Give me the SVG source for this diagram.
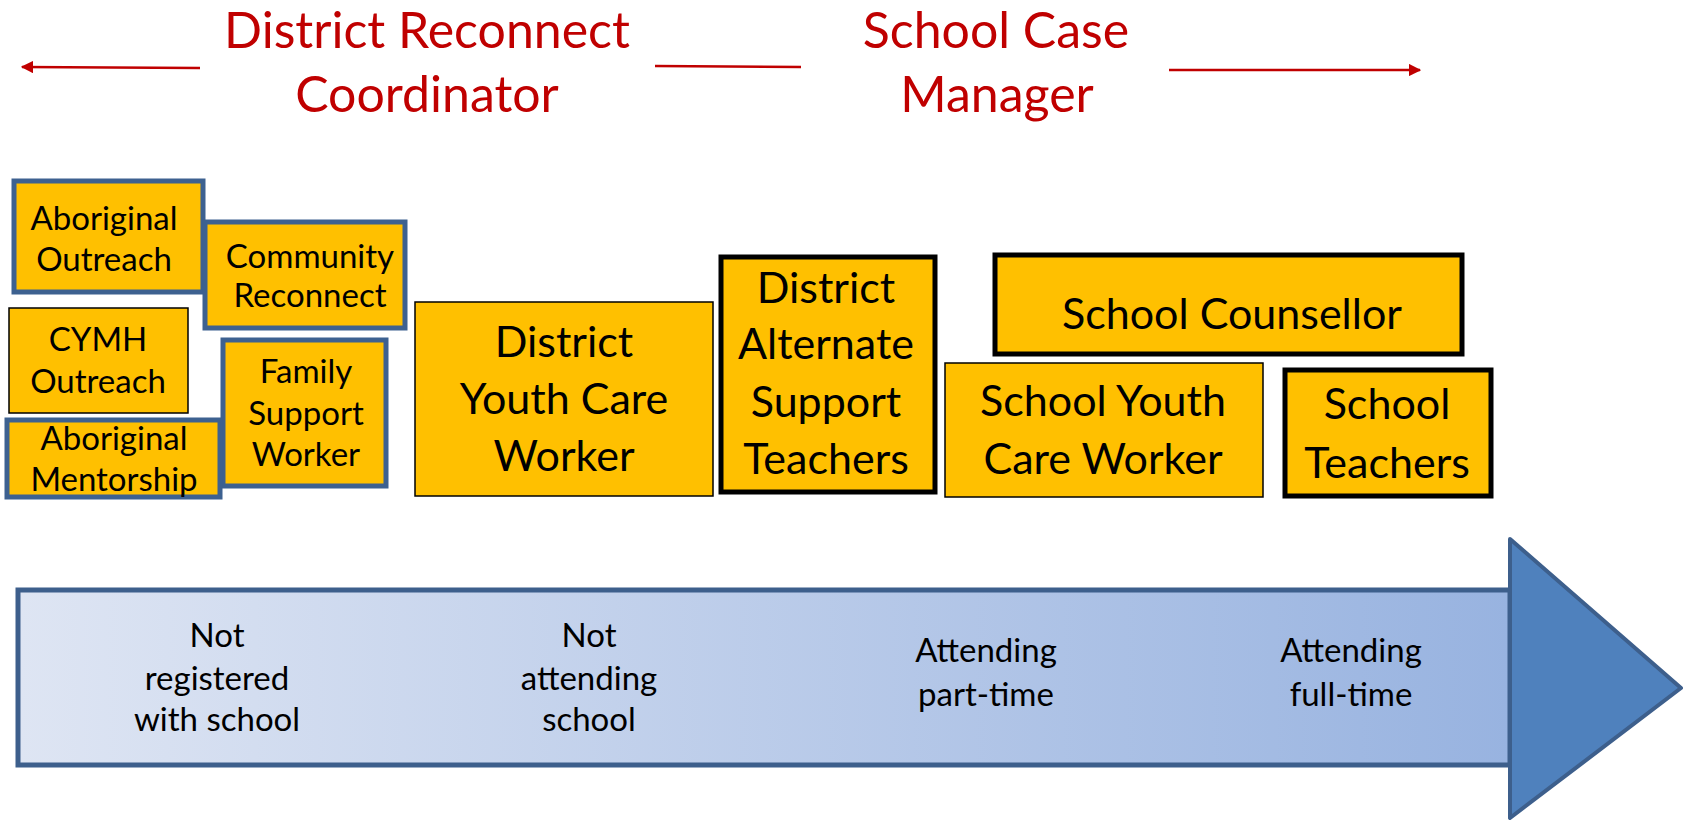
<svg xmlns="http://www.w3.org/2000/svg" width="1691" height="821" viewBox="0 0 1691 821">
<defs>
<style>
text{font-family:Lato,"Liberation Sans",sans-serif;text-anchor:middle;fill:#000}
.title{font-size:50px;fill:#C00000}
.sm{font-size:33px}
.big{font-size:43px}
.lbl{font-size:33px}
.box{fill:#FFC000}
.blue{stroke:#3D6190;stroke-width:5}
.thin{stroke:#000;stroke-width:1.5}
.thick{stroke:#000;stroke-width:5}
.red{stroke:#C00000;stroke-width:2.5;fill:none}
</style>
<linearGradient id="g" x1="0" y1="0" x2="1" y2="0">
<stop offset="0" stop-color="#DEE5F3"/>
<stop offset="1" stop-color="#98B3E0"/>
</linearGradient>
<marker id="ah" viewBox="0 0 10 10" refX="9" refY="5" markerWidth="5" markerHeight="5" orient="auto-start-reverse" markerUnits="strokeWidth">
<path d="M0,0 L10,5 L0,10 z" fill="#C00000"/>
</marker>
</defs>
<g id="connectors">
<line class="red" x1="200" y1="68" x2="22" y2="67" marker-end="url(#ah)"/>
<line class="red" x1="655" y1="66" x2="801" y2="67"/>
<line class="red" x1="1169" y1="70" x2="1420" y2="70" marker-end="url(#ah)"/>
</g>
<g id="title-district">
<text class="title" x="427" y="48">District Reconnect</text>
<text class="title" x="427" y="112">Coordinator</text>
</g>
<g id="title-school">
<text class="title" x="996" y="48">School Case</text>
<text class="title" x="997" y="112">Manager</text>
</g>
<g id="aboriginal-outreach">
<rect class="box blue" x="14" y="181" width="189" height="111"/>
<text class="sm" x="104" y="230">Aboriginal</text>
<text class="sm" x="104" y="271">Outreach</text>
</g>
<g id="community-reconnect">
<rect class="box blue" x="205" y="222" width="200" height="106"/>
<text class="sm" x="310" y="268">Community</text>
<text class="sm" x="310" y="307">Reconnect</text>
</g>
<g id="cymh-outreach">
<rect class="box thin" x="9" y="308" width="179" height="105"/>
<text class="sm" x="98" y="351">CYMH</text>
<text class="sm" x="98" y="393">Outreach</text>
</g>
<g id="family-support">
<rect class="box blue" x="223" y="340" width="163" height="146"/>
<text class="sm" x="306" y="383">Family</text>
<text class="sm" x="306" y="425">Support</text>
<text class="sm" x="306" y="466">Worker</text>
</g>
<g id="aboriginal-mentorship">
<rect class="box blue" x="7" y="420" width="213" height="77"/>
<text class="sm" x="114" y="450">Aboriginal</text>
<text class="sm" x="114" y="491">Mentorship</text>
</g>
<g id="district-ycw">
<rect class="box thin" x="415" y="302" width="298" height="194"/>
<text class="big" x="564" y="357">District</text>
<text class="big" x="564" y="414">Youth Care</text>
<text class="big" x="564" y="471">Worker</text>
</g>
<g id="district-ast">
<rect class="box thick" x="721" y="257" width="214" height="235"/>
<text class="big" x="826" y="303">District</text>
<text class="big" x="826" y="359">Alternate</text>
<text class="big" x="826" y="417">Support</text>
<text class="big" x="826" y="474">Teachers</text>
</g>
<g id="school-counsellor">
<rect class="box thick" x="995" y="255" width="467" height="99"/>
<text class="big" x="1232" y="329">School Counsellor</text>
</g>
<g id="school-ycw">
<rect class="box thin" x="945" y="363" width="318" height="134"/>
<text class="big" x="1103" y="416">School Youth</text>
<text class="big" x="1103" y="474">Care Worker</text>
</g>
<g id="school-teachers">
<rect class="box thick" x="1285" y="370" width="206" height="126"/>
<text class="big" x="1387" y="419">School</text>
<text class="big" x="1387" y="478">Teachers</text>
</g>
<g id="progress-arrow">
<rect x="18" y="590" width="1492" height="175" fill="url(#g)" stroke="#3D5F8C" stroke-width="5"/>
<polygon points="1510,539 1681,688 1510,818" fill="#4F81BD" stroke="#3D5F8C" stroke-width="4" stroke-linejoin="round"/>
<text class="lbl" x="217" y="647">Not</text>
<text class="lbl" x="217" y="690">registered</text>
<text class="lbl" x="217" y="731">with school</text>
<text class="lbl" x="589" y="647">Not</text>
<text class="lbl" x="589" y="690">attending</text>
<text class="lbl" x="589" y="731">school</text>
<text class="lbl" x="986" y="662">Attending</text>
<text class="lbl" x="986" y="706">part-time</text>
<text class="lbl" x="1351" y="662">Attending</text>
<text class="lbl" x="1351" y="706">full-time</text>
</g>
</svg>
